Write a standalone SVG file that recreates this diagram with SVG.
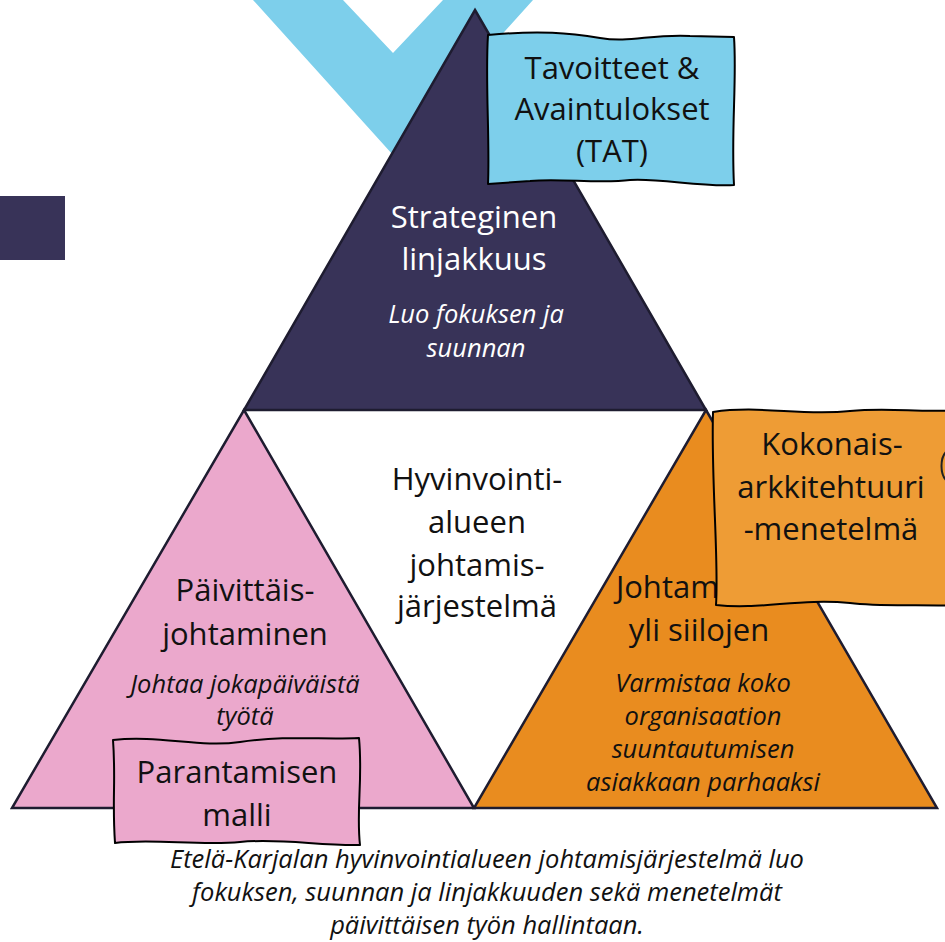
<svg xmlns="http://www.w3.org/2000/svg" width="945" height="942" viewBox="0 0 945 942">
<style>
.main{font-family:"Open Sans","Liberation Sans",sans-serif;font-size:31px;text-anchor:middle;fill:#111}
.it{font-family:"Open Sans","Liberation Sans",sans-serif;font-size:25.5px;font-style:italic;text-anchor:middle;fill:#111}
.w{fill:#ffffff}
.tri{stroke:#1e1c30;stroke-width:2.5;stroke-linejoin:miter}
.box{stroke:#000;stroke-width:2;stroke-linejoin:round}
</style>
<rect x="0" y="0" width="945" height="942" fill="#ffffff"/>
<g id="chevron">
<polygon points="253,0 393,155 533,0 443,0 393,53 343,0" fill="#7DCFEB"/>
</g>
<g id="left-square">
<rect x="0" y="196" width="65" height="64" fill="#383358"/>
</g>
<g id="strateginen">
<polygon class="tri" points="475,10 706,410 244,410" fill="#383358"/>
<text class="main w" x="474" y="228">Strateginen</text>
<text class="main w" x="474" y="270">linjakkuus</text>
<text class="it w" x="476" y="323">Luo fokuksen ja</text>
<text class="it w" x="476" y="357">suunnan</text>
</g>
<g id="paivittaisjohtaminen">
<polygon class="tri" points="244,410 474,808 12,808" fill="#EBA8CC"/>
<text class="main" x="245" y="601">Päivittäis-</text>
<text class="main" x="245" y="645">johtaminen</text>
<text class="it" x="245" y="693">Johtaa jokapäiväistä</text>
<text class="it" x="245" y="725">työtä</text>
</g>
<g id="johtaminen-yli-siilojen">
<polygon class="tri" points="706,410 937,808 474,808" fill="#E98C1F"/>
<text class="main" x="699" y="598">Johtaminen</text>
<text class="main" x="699" y="641">yli siilojen</text>
<text class="it" x="703" y="692">Varmistaa koko</text>
<text class="it" x="703" y="725">organisaation</text>
<text class="it" x="703" y="758">suuntautumisen</text>
<text class="it" x="703" y="791">asiakkaan parhaaksi</text>
</g>
<g id="johtamisjarjestelma">
<text class="main" x="477" y="490">Hyvinvointi-</text>
<text class="main" x="477" y="533">alueen</text>
<text class="main" x="477" y="576">johtamis-</text>
<text class="main" x="477" y="617">järjestelmä</text>
</g>
<g id="tat">
<path class="box" fill="#7DCFEB" d="M488,35 C540,30 570,33 600,38 C630,43 650,34 690,36 L734,37 C737,80 731,130 734,185 C700,187 660,178 630,180 C600,184 560,178 530,181 L488,184 C490,140 485,80 488,35 Z"/>
<text class="main" x="612" y="79">Tavoitteet &amp;</text>
<text class="main" x="612" y="120">Avaintulokset</text>
<text class="main" x="612" y="162">(TAT)</text>
</g>
<g id="kokonaisarkkitehtuuri">
<path class="box" fill="#EE9C35" d="M713,412 C760,405 800,416 850,411 C890,407 920,413 960,410 L960,606 C920,604 880,607 850,603 C800,598 760,610 716,605 C719,560 711,480 713,412 Z"/>
<text class="main" x="832" y="455">Kokonais-</text>
<text class="main" x="831" y="498">arkkitehtuuri</text>
<text class="main" x="831" y="540">-menetelmä</text>
<path d="M946,452 C940,458 940,474 946,480" fill="none" stroke="#222" stroke-width="2"/>
</g>
<g id="parantamisen-malli">
<path class="box" fill="#EBA8CC" d="M113,740 C160,735 200,748 240,742 C290,735 320,740 359,738 C363,780 356,810 360,845 C320,846 280,838 240,842 C200,846 150,838 115,843 C112,800 116,780 113,740 Z"/>
<text class="main" x="237" y="783">Parantamisen</text>
<text class="main" x="237" y="826">malli</text>
</g>
<g id="caption">
<text class="it" x="487" y="868">Etelä-Karjalan hyvinvointialueen johtamisjärjestelmä luo</text>
<text class="it" x="487" y="901">fokuksen, suunnan ja linjakkuuden sekä menetelmät</text>
<text class="it" x="487" y="934">päivittäisen työn hallintaan.</text>
</g>
</svg>
